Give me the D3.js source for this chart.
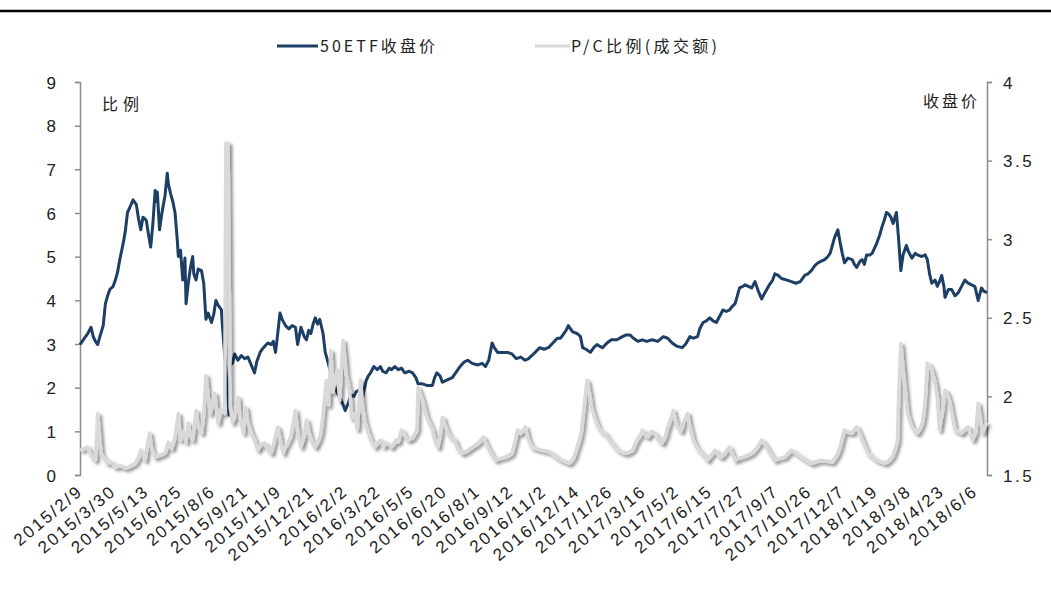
<!DOCTYPE html>
<html><head><meta charset="utf-8">
<script src="https://cdn.jsdelivr.net/npm/d3@7"></script>
<style>body{margin:0;background:#fff}svg{display:block}</style>
</head><body><svg id="c" width="1051" height="590"></svg>
<script>
// x-axis category labels (one every 30 trading days)
const tickLabels = ["2015/2/9","2015/3/30","2015/5/13","2015/6/25","2015/8/6","2015/9/21","2015/11/9","2015/12/21","2016/2/2","2016/3/22","2016/5/5","2016/6/20","2016/8/1","2016/9/12","2016/11/2","2016/12/14","2017/1/26","2017/3/16","2017/5/2","2017/6/15","2017/7/27","2017/9/7","2017/10/26","2017/12/7","2018/1/19","2018/3/8","2018/4/23","2018/6/6"];
const tickStep = 30;
const lastDay = 821;
const leftTicks = [0,1,2,3,4,5,6,7,8,9];
const rightTicks = [1.5,2,2.5,3,3.5,4];
const rightTickLabels = ["1.5","2","2.5","3","3.5","4"];

// 50ETF closing price: [trading-day index, price]
const etfSeries = [[0,2.33],[4,2.37],[7,2.40],[10,2.44],[12,2.38],[14,2.35],[16,2.33],[18,2.38],[21,2.45],[23,2.59],[25,2.64],[27,2.68],[30,2.70],[32,2.74],[34,2.79],[36,2.87],[39,2.97],[41,3.05],[43,3.17],[45,3.20],[48,3.25],[51,3.22],[53,3.13],[55,3.06],[57,3.14],[60,3.12],[62,3.03],[64,2.95],[66,3.10],[68,3.31],[69,3.24],[70,3.30],[72,3.06],[74,3.16],[75,3.20],[77,3.28],[79,3.42],[80,3.35],[82,3.29],[84,3.24],[86,3.17],[88,3.00],[89,2.89],[91,2.93],[93,2.74],[95,2.88],[96,2.59],[98,2.72],[100,2.82],[102,2.89],[103,2.78],[105,2.74],[107,2.81],[110,2.80],[112,2.72],[114,2.49],[116,2.53],[119,2.47],[121,2.52],[123,2.61],[125,2.58],[128,2.55],[129,2.44],[132,2.17],[135,1.88],[136,2.20],[138,2.21],[140,2.27],[143,2.23],[146,2.26],[149,2.24],[152,2.25],[155,2.20],[158,2.15],[160,2.22],[163,2.28],[166,2.31],[170,2.34],[173,2.33],[175,2.35],[177,2.28],[179,2.40],[181,2.53],[183,2.49],[186,2.45],[189,2.43],[192,2.45],[195,2.44],[197,2.33],[200,2.44],[203,2.38],[205,2.36],[207,2.42],[209,2.40],[211,2.46],[213,2.50],[215,2.46],[217,2.49],[220,2.40],[222,2.28],[224,2.23],[227,2.15],[230,2.08],[233,2.02],[236,1.98],[238,1.95],[240,1.91],[243,1.96],[245,2.01],[248,2.00],[250,2.03],[253,2.04],[256,2.00],[259,2.10],[261,2.13],[263,2.15],[266,2.19],[269,2.17],[272,2.19],[274,2.16],[277,2.15],[280,2.18],[282,2.17],[285,2.19],[288,2.17],[291,2.18],[294,2.15],[298,2.16],[301,2.15],[304,2.12],[306,2.08],[310,2.08],[314,2.07],[319,2.07],[321,2.12],[323,2.15],[326,2.13],[328,2.09],[331,2.10],[334,2.11],[337,2.12],[340,2.15],[344,2.19],[348,2.22],[351,2.23],[355,2.21],[360,2.20],[364,2.21],[367,2.19],[370,2.23],[373,2.34],[375,2.31],[378,2.28],[382,2.28],[387,2.28],[391,2.27],[395,2.24],[399,2.25],[403,2.23],[406,2.24],[409,2.26],[412,2.28],[416,2.31],[420,2.30],[424,2.31],[428,2.34],[432,2.37],[435,2.37],[437,2.39],[440,2.42],[442,2.45],[444,2.43],[446,2.41],[450,2.40],[453,2.38],[455,2.31],[458,2.30],[462,2.28],[465,2.31],[468,2.33],[470,2.32],[473,2.31],[477,2.34],[481,2.36],[486,2.36],[491,2.38],[494,2.39],[498,2.39],[501,2.37],[505,2.35],[509,2.36],[513,2.35],[518,2.36],[523,2.35],[528,2.38],[532,2.37],[536,2.34],[540,2.32],[545,2.31],[548,2.33],[552,2.38],[555,2.37],[559,2.38],[561,2.43],[564,2.47],[567,2.48],[570,2.50],[573,2.48],[576,2.47],[579,2.51],[582,2.55],[585,2.54],[588,2.55],[590,2.57],[593,2.59],[595,2.64],[597,2.69],[600,2.70],[602,2.71],[605,2.70],[608,2.69],[611,2.73],[614,2.67],[617,2.62],[620,2.66],[624,2.71],[627,2.74],[629,2.78],[632,2.77],[635,2.75],[640,2.74],[644,2.73],[648,2.72],[652,2.73],[656,2.77],[659,2.78],[662,2.80],[665,2.83],[668,2.85],[671,2.86],[674,2.87],[677,2.89],[679,2.91],[681,2.96],[683,3.01],[686,3.06],[688,2.98],[690,2.91],[692,2.85],[695,2.88],[699,2.87],[701,2.84],[703,2.82],[706,2.86],[708,2.87],[710,2.84],[712,2.90],[715,2.90],[717,2.91],[719,2.94],[721,2.97],[724,3.03],[726,3.08],[728,3.12],[730,3.17],[732,3.16],[734,3.14],[736,3.10],[739,3.17],[741,3.00],[743,2.80],[745,2.90],[748,2.96],[750,2.92],[753,2.88],[756,2.91],[758,2.90],[762,2.89],[765,2.90],[767,2.87],[769,2.78],[771,2.72],[774,2.74],[776,2.70],[778,2.73],[780,2.77],[782,2.70],[783,2.63],[786,2.68],[789,2.68],[792,2.64],[795,2.66],[798,2.70],[801,2.74],[804,2.72],[807,2.71],[810,2.70],[813,2.61],[816,2.69],[818,2.67],[821,2.66]];

// P/C ratio (turnover): [trading-day index, ratio]
const pcSeries = [[0,0.57],[3,0.6],[7,0.64],[10,0.45],[14,0.34],[16,1.41],[17,1.1],[19,0.5],[22,0.38],[25,0.27],[28,0.3],[32,0.18],[36,0.22],[41,0.16],[45,0.2],[50,0.27],[53,0.4],[55,0.57],[59,0.34],[61,0.7],[63,0.96],[65,0.6],[68,0.41],[72,0.45],[77,0.5],[80,0.75],[83,0.6],[86,0.87],[89,1.41],[91,0.8],[94,1.0],[96,0.75],[98,1.19],[100,0.9],[102,0.8],[105,1.48],[107,1.1],[110,0.96],[112,1.4],[114,2.28],[116,1.8],[118,1.41],[120,1.6],[122,1.87],[125,1.19],[128,1.5],[131,1.41],[132,7.6],[134,7.6],[136,1.55],[138,1.2],[140,1.32],[143,1.78],[145,1.3],[148,0.96],[150,1.55],[152,1.2],[155,0.96],[158,0.8],[161,0.57],[164,0.7],[167,0.73],[170,0.6],[173,0.5],[176,0.8],[179,1.1],[182,0.7],[184,0.5],[186,0.65],[188,0.73],[191,0.9],[195,1.48],[197,1.0],[200,0.64],[203,0.9],[205,1.26],[208,0.9],[211,0.7],[213,0.64],[216,0.8],[218,0.96],[220,1.4],[223,2.17],[225,1.6],[227,2.85],[229,1.9],[231,2.2],[233,2.4],[235,1.7],[238,3.08],[240,2.6],[241,2.3],[244,1.94],[246,1.3],[249,1.41],[251,1.05],[254,2.17],[256,1.5],[258,1.2],[261,0.96],[264,0.75],[267,0.64],[270,0.75],[272,0.8],[275,0.65],[277,0.73],[280,0.7],[282,0.64],[286,0.8],[288,0.75],[291,1.03],[294,0.9],[297,0.8],[301,0.85],[305,1.03],[306,2.0],[308,1.85],[310,1.71],[312,1.5],[314,1.32],[317,1.15],[319,1.03],[321,0.8],[324,0.64],[326,0.9],[328,1.32],[331,1.1],[333,0.96],[336,0.85],[339,0.8],[342,0.6],[346,0.5],[350,0.55],[355,0.64],[360,0.72],[365,0.87],[367,0.75],[369,0.64],[372,0.5],[376,0.34],[380,0.38],[385,0.41],[388,0.45],[391,0.5],[394,0.8],[396,1.03],[399,0.95],[403,1.1],[406,0.8],[409,0.64],[413,0.6],[418,0.57],[422,0.55],[427,0.5],[431,0.42],[436,0.34],[440,0.3],[443,0.27],[447,0.4],[450,0.64],[452,0.8],[454,1.03],[456,1.5],[459,2.17],[461,1.9],[463,1.55],[466,1.3],[469,1.1],[472,1.0],[475,0.96],[479,0.8],[484,0.64],[488,0.55],[493,0.5],[497,0.52],[500,0.57],[504,0.8],[507,0.9],[509,1.03],[512,0.9],[514,0.87],[517,1.0],[520,0.96],[524,0.8],[527,0.73],[530,0.9],[532,1.1],[535,1.3],[537,1.48],[539,1.25],[541,1.1],[544,1.0],[546,1.19],[548,1.3],[550,1.41],[552,1.1],[555,0.8],[559,0.6],[563,0.5],[566,0.4],[568,0.34],[571,0.45],[575,0.57],[578,0.45],[581,0.41],[585,0.55],[588,0.64],[591,0.45],[593,0.34],[596,0.38],[600,0.41],[604,0.45],[608,0.5],[612,0.6],[617,0.8],[620,0.7],[623,0.57],[626,0.45],[629,0.34],[633,0.38],[638,0.41],[641,0.5],[644,0.57],[648,0.5],[653,0.41],[657,0.35],[662,0.27],[666,0.3],[671,0.34],[676,0.32],[681,0.30],[685,0.45],[688,0.64],[690,0.85],[692,1.03],[695,0.98],[699,0.96],[701,1.05],[703,1.1],[706,0.95],[708,0.8],[711,0.62],[713,0.5],[717,0.42],[721,0.34],[725,0.3],[729,0.27],[732,0.33],[735,0.41],[738,0.6],[740,0.8],[741,1.8],[743,3.01],[746,2.17],[749,1.41],[751,1.25],[753,1.1],[756,1.0],[758,0.96],[761,1.1],[763,1.26],[765,1.7],[767,2.56],[769,2.5],[771,2.4],[774,2.1],[776,1.78],[778,1.03],[781,1.5],[783,1.94],[785,1.85],[787,1.71],[790,1.3],[792,1.03],[795,1.0],[798,0.96],[801,1.05],[804,1.1],[806,0.95],[808,0.8],[811,1.0],[813,1.64],[815,1.3],[817,0.96],[819,1.1],[821,1.2]];

const svg = d3.select("#c");
const L = 80, R = 987, T = 82, B = 475;
const x = d3.scaleLinear().domain([0, lastDay]).range([L, R]);
const yL = d3.scaleLinear().domain([0, 9]).range([B, T]);
const yR = d3.scaleLinear().domain([1.5, 4]).range([B, T]);

const defs = svg.append("defs");
const f = defs.append("filter").attr("id","sh").attr("x","-20%").attr("y","-20%").attr("width","140%").attr("height","140%");
f.append("feDropShadow").attr("dx",2.5).attr("dy",2.5).attr("stdDeviation",1.8).attr("flood-color","#000").attr("flood-opacity",0.45);

// top rule
svg.append("line").attr("x1",0).attr("x2",1051).attr("y1",11).attr("y2",11).attr("stroke","#000").attr("stroke-width",2.5);

const numFont = "'Liberation Sans', Arial, sans-serif";
const cjkFont = "'Noto Sans CJK SC', sans-serif";

// left axis
const gl = svg.append("g").attr("transform",`translate(${L},0)`)
  .call(d3.axisLeft(yL).tickValues(leftTicks).tickSize(5).tickPadding(8).tickFormat(d3.format("d")));
gl.select(".domain").attr("stroke","#8c8c8c").attr("stroke-width",1.5);
gl.selectAll(".tick line").attr("stroke","#8c8c8c").attr("stroke-width",1.5);
gl.selectAll(".tick text").attr("font-family",numFont).attr("font-size",17).attr("fill","#222").attr("x",-24).attr("dy","0.36em");

// right axis
const gr = svg.append("g").attr("transform",`translate(${R},0)`)
  .call(d3.axisRight(yR).tickValues(rightTicks).tickSize(5).tickPadding(8).tickFormat((d,i)=>rightTickLabels[i]));
gr.select(".domain").attr("stroke","#8c8c8c").attr("stroke-width",1.5);
gr.selectAll(".tick line").attr("stroke","#8c8c8c").attr("stroke-width",1.5);
gr.selectAll(".tick text").attr("font-family",numFont).attr("font-size",17).attr("fill","#222").attr("x",16).attr("letter-spacing",2.5).attr("dy","0.36em");

// x labels
const xt = svg.append("g");
tickLabels.forEach((lab,i)=>{
  const px = x(i*tickStep);
  xt.append("text").attr("transform",`translate(${px+4},${493}) rotate(-40)`)
    .attr("text-anchor","end").attr("font-family",numFont).attr("font-size",17).attr("letter-spacing",2.2).attr("fill","#222").text(lab);
});

// series
const lineETF = d3.line().x(d=>x(d[0])).y(d=>yR(d[1]));
const linePC = d3.line().x(d=>x(d[0])).y(d=>yL(d[1]));
svg.append("path").datum(etfSeries).attr("d",lineETF).attr("fill","none").attr("stroke","#1d3f66").attr("stroke-width",3).attr("stroke-linejoin","round");
svg.append("path").datum(pcSeries).attr("d",linePC).attr("fill","none").attr("stroke","#d9d9d9").attr("stroke-width",3.5).attr("stroke-linejoin","round").attr("filter","url(#sh)");

// bottom axis bar
svg.append("line").attr("x1",L).attr("x2",R).attr("y1",B+1.5).attr("y2",B+1.5).attr("stroke","#7f7f7f").attr("stroke-width",4).attr("filter","url(#sh)");

// axis titles
svg.append("text").attr("x",102).attr("y",110).attr("font-family",cjkFont).attr("font-size",16).attr("letter-spacing",5).attr("fill","#222").text("比例");
svg.append("text").attr("x",980).attr("y",107).attr("text-anchor","end").attr("font-family",cjkFont).attr("font-size",16).attr("letter-spacing",3).attr("fill","#222").text("收盘价");

// legend
const lg = svg.append("g");
lg.append("line").attr("x1",277).attr("x2",318).attr("y1",46).attr("y2",46).attr("stroke","#1d3f66").attr("stroke-width",3);
lg.append("text").attr("x",320).attr("y",52).attr("font-family",cjkFont).attr("font-size",16).attr("fill","#222")
  .attr("textLength",115).attr("lengthAdjust","spacing").text("50ETF收盘价");
lg.append("line").attr("x1",535).attr("x2",570).attr("y1",46).attr("y2",46).attr("stroke","#d9d9d9").attr("stroke-width",3);
lg.append("text").attr("x",571).attr("y",52).attr("font-family",cjkFont).attr("font-size",16).attr("fill","#222")
  .attr("textLength",146).attr("lengthAdjust","spacing").text("P/C比例(成交额)");
</script></body></html>
